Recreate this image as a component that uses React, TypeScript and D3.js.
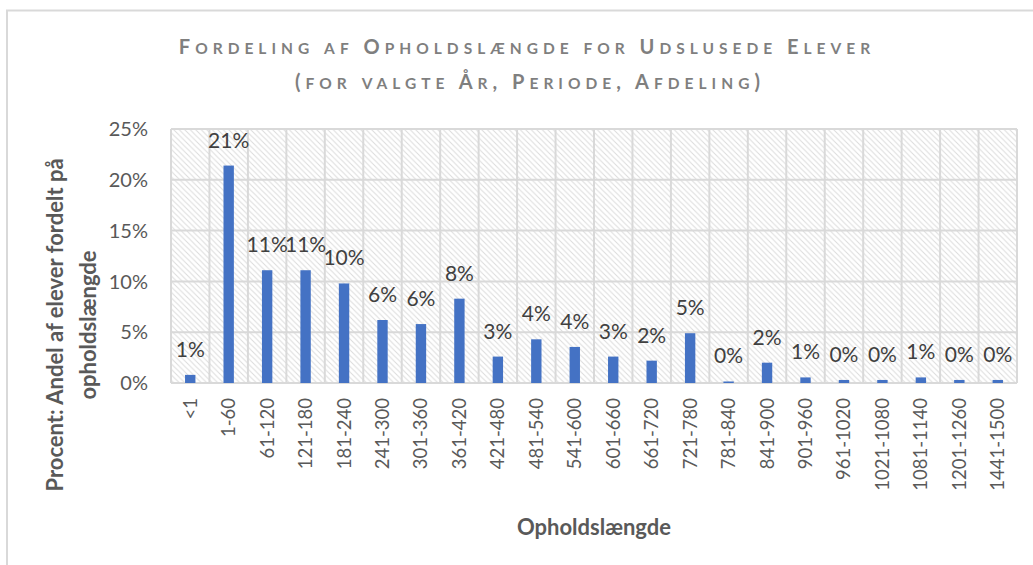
import React from "react";
import * as d3 from "d3";

const width = 1033;
const height = 565;

// categories (days) and share of students in percent
const categories = [
  "<1", "1-60", "61-120", "121-180", "181-240", "241-300", "301-360", "361-420",
  "421-480", "481-540", "541-600", "601-660", "661-720", "721-780", "781-840",
  "841-900", "901-960", "961-1020", "1021-1080", "1081-1140", "1201-1260", "1441-1500",
];
const values = [
  0.8, 21.4, 11.1, 11.1, 9.8, 6.2, 5.8, 8.3, 2.6, 4.3, 3.55,
  2.6, 2.2, 4.9, 0.15, 2.0, 0.55, 0.3, 0.3, 0.55, 0.3, 0.3,
];
const yTicks = [0, 5, 10, 15, 20, 25];
const titleLines = [
  "Fordeling af Opholdslængde for Udslusede Elever",
  "(for valgte År, Periode, Afdeling)",
];

const plot = { left: 171, right: 1017, top: 129, bottom: 383 };
const font = "Lato, 'Noto Sans', sans-serif";
const gridColor = "#d9d9d9";

// manual small caps: lower case letters become smaller capitals
const SmallCaps = ({ text }: { text: string }) => (
  <>
    {text.split("").map((ch, i) => {
      const lower = ch !== ch.toUpperCase();
      return (
        <tspan key={i} fontSize={lower ? 15.5 : 20}>
          {ch.toUpperCase()}
        </tspan>
      );
    })}
  </>
);

const App = () => {
  const x = d3
    .scaleBand<string>()
    .domain(categories)
    .range([plot.left, plot.right])
    .padding(0);
  const y = d3.scaleLinear().domain([0, 25]).range([plot.bottom, plot.top]);
  const barW = x.step() * 0.27;

  //vertical gridlines at every category boundary
  const vLines = categories.map(c => x(c) as number).concat([plot.right]);

  return (
    <svg
      width={width}
      height={height}
      style={{ position: "absolute", left: 0, top: 0, fontFamily: font }}
    >
      <defs>
        <pattern id="hatch" width={5.5} height={5.5} patternUnits="userSpaceOnUse">
          <path
            d="M0,0 L5.5,5.5 M-1,4.5 L1,6.5 M4.5,-1 L6.5,1"
            stroke="#dcdcdc"
            strokeWidth={1}
          />
        </pattern>
      </defs>
      <rect x={0} y={0} width={width} height={height} fill="#fff" />
      {/* chart border, runs off right and bottom */}
      <rect x={7} y={10.5} width={1100} height={700} fill="none" stroke={gridColor} strokeWidth={2} />

      {/* title */}
      <g fill="#7f7f7f" fontWeight="bold" textAnchor="middle"
        style={{ letterSpacing: "5px" }}>
        <text x={527} y={54}><SmallCaps text={titleLines[0]} /></text>
        <text x={530} y={89}><SmallCaps text={titleLines[1]} /></text>
      </g>

      {/* plot area */}
      <rect
        x={plot.left}
        y={plot.top}
        width={plot.right - plot.left}
        height={plot.bottom - plot.top}
        fill="url(#hatch)"
      />
      {yTicks.map(t => (
        <line key={"h" + t} x1={plot.left} x2={plot.right} y1={y(t)} y2={y(t)}
          stroke={gridColor} strokeWidth={2} />
      ))}
      {vLines.map((v, i) => (
        <line key={"v" + i} x1={v} x2={v} y1={plot.top} y2={plot.bottom}
          stroke={gridColor} strokeWidth={2} />
      ))}

      {/* y axis labels */}
      {yTicks.map(t => (
        <text key={"yt" + t} x={148} y={y(t)} dy="0.36em" textAnchor="end"
          fontSize={20} fill="#595959">
          {t + "%"}
        </text>
      ))}

      {/* bars */}
      {categories.map((c, i) => {
        const cx = (x(c) as number) + x.bandwidth() / 2;
        return (
          <g key={c}>
            <rect x={cx - barW / 2} y={y(values[i])} width={barW}
              height={plot.bottom - y(values[i])} fill="#4472c4" />
            <text x={cx} y={y(values[i]) - 18} textAnchor="middle" fontSize={21} fill="#404040">
              {Math.round(values[i]) + "%"}
            </text>
            <text transform={`translate(${cx},398) rotate(-90)`} textAnchor="end"
              dy="0.35em" fontSize={18.5} fill="#595959">
              {c}
            </text>
          </g>
        );
      })}

      {/* axis titles */}
      <g fill="#595959" fontWeight="bold" fontSize={22} textAnchor="middle">
        <text transform="translate(63,325) rotate(-90)">Procent: Andel af elever fordelt på</text>
        <text transform="translate(96,325) rotate(-90)">opholdslængde</text>
        <text x={(plot.left + plot.right) / 2} y={535}>Opholdslængde</text>
      </g>
    </svg>
  );
};

export default App;
